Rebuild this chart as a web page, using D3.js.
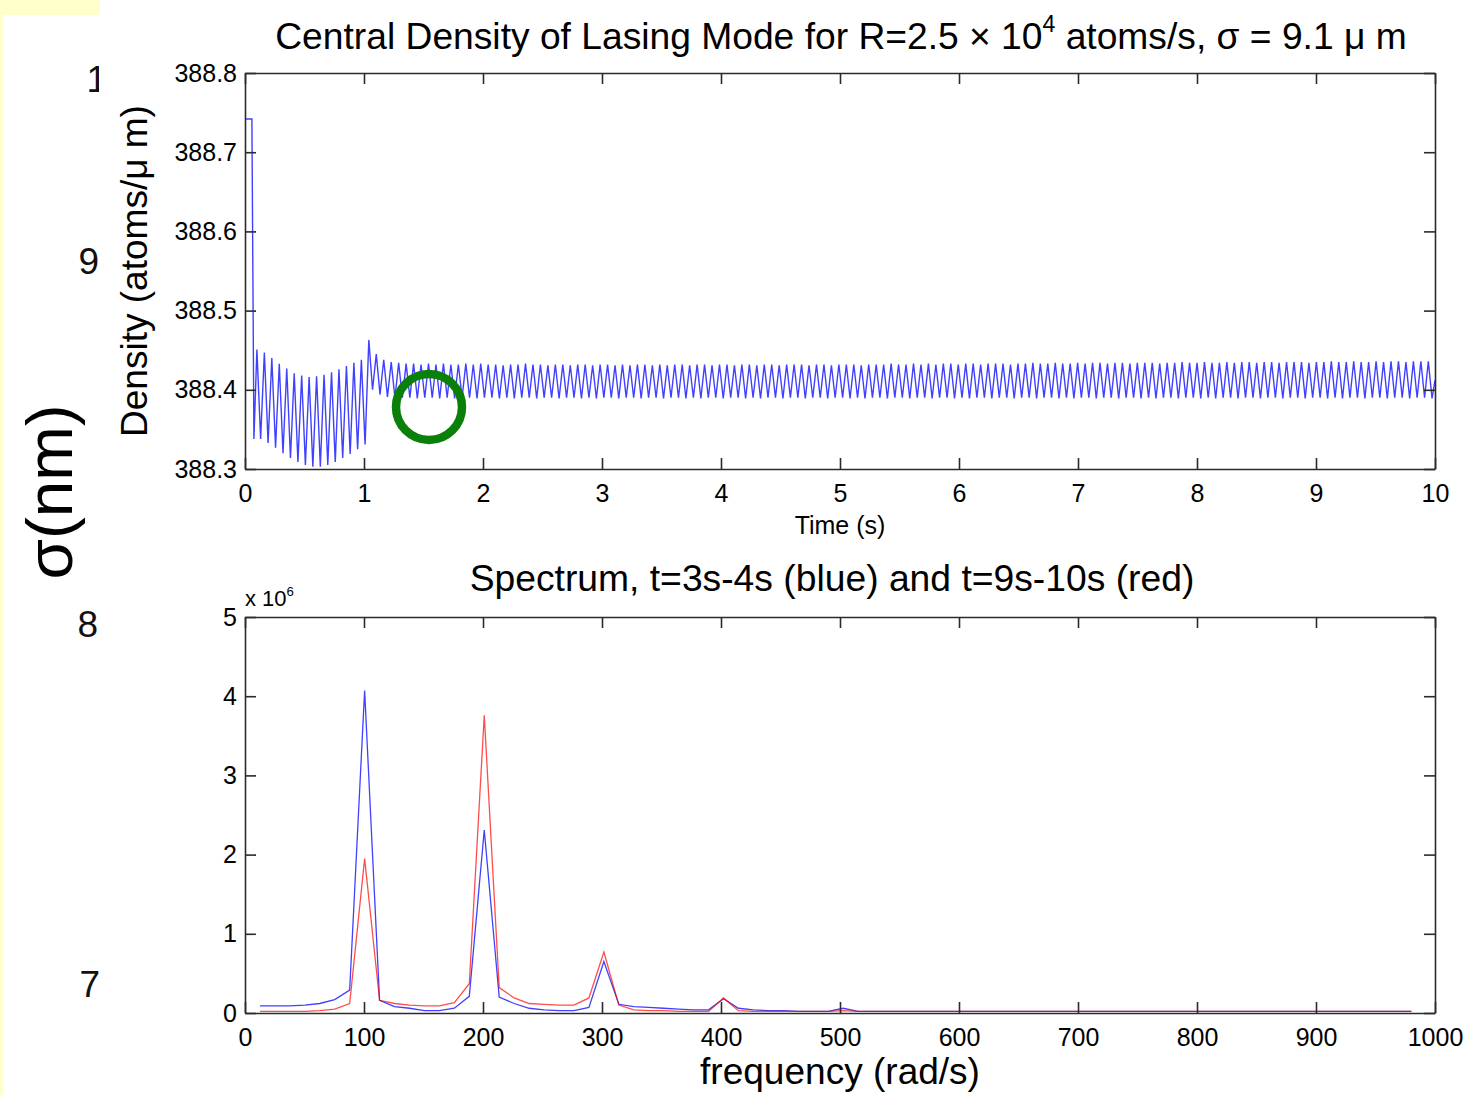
<!DOCTYPE html>
<html>
<head>
<meta charset="utf-8">
<script src="https://cdn.jsdelivr.net/npm/d3@7"></script>
<style>
body { margin: 0; background: #fff; }
svg { display: block; font-family: "Liberation Sans", Arial, Helvetica, sans-serif; }
</style>
</head>
<body>
<script>
const width = 1469
const height = 1095

// top panel: density read at each peak and trough of the oscillation
const densityLead = [[0, 388.742], [0.058, 388.742], [0.075, 388.338]]
const densityTail = [[10, 388.412]]
const cycleStart = 0.10
const cyclePeriod = 0.0627
const densityPeaks = [
    388.451, 388.447, 388.440, 388.433, 388.427, 388.421, 388.418, 388.416, 388.417, 388.419,
    388.422, 388.426, 388.430, 388.434, 388.438, 388.463, 388.445, 388.438, 388.435, 388.434,
    388.433, 388.433, 388.432, 388.433, 388.432, 388.433, 388.432, 388.432, 388.433, 388.432,
    388.433, 388.432, 388.432, 388.431, 388.432, 388.432, 388.433, 388.432, 388.432, 388.431,
    388.432, 388.432, 388.431, 388.432, 388.432, 388.431, 388.432, 388.432, 388.431, 388.432,
    388.431, 388.432, 388.432, 388.431, 388.432, 388.431, 388.432, 388.432, 388.431, 388.432,
    388.432, 388.431, 388.432, 388.432, 388.431, 388.432, 388.432, 388.431, 388.432, 388.432,
    388.431, 388.432, 388.432, 388.432, 388.431, 388.432, 388.432, 388.431, 388.432, 388.432,
    388.432, 388.431, 388.432, 388.432, 388.432, 388.433, 388.432, 388.432, 388.433, 388.432,
    388.433, 388.432, 388.433, 388.433, 388.432, 388.433, 388.433, 388.432, 388.433, 388.433,
    388.433, 388.432, 388.433, 388.433, 388.434, 388.433, 388.433, 388.434, 388.433, 388.433,
    388.434, 388.433, 388.434, 388.434, 388.433, 388.434, 388.434, 388.433, 388.434, 388.434,
    388.434, 388.433, 388.434, 388.434, 388.435, 388.434, 388.434, 388.435, 388.434, 388.434,
    388.435, 388.434, 388.435, 388.435, 388.434, 388.435, 388.435, 388.434, 388.435, 388.435,
    388.435, 388.434, 388.435, 388.435, 388.436, 388.435, 388.435, 388.436, 388.435, 388.435,
    388.436, 388.435, 388.436, 388.436, 388.435, 388.436, 388.436, 388.436
]
const densityTroughs = [
    388.338, 388.333, 388.327, 388.320, 388.314, 388.309, 388.305, 388.303, 388.303, 388.305,
    388.309, 388.314, 388.319, 388.325, 388.331, 388.400, 388.394, 388.391, 388.390, 388.390,
    388.390, 388.389, 388.390, 388.390, 388.389, 388.390, 388.389, 388.390, 388.390, 388.389,
    388.390, 388.390, 388.389, 388.390, 388.389, 388.390, 388.390, 388.389, 388.390, 388.390,
    388.389, 388.390, 388.390, 388.389, 388.390, 388.389, 388.390, 388.390, 388.389, 388.390,
    388.390, 388.389, 388.390, 388.390, 388.389, 388.390, 388.390, 388.389, 388.390, 388.389,
    388.390, 388.390, 388.389, 388.390, 388.390, 388.389, 388.390, 388.389, 388.390, 388.390,
    388.389, 388.390, 388.390, 388.389, 388.390, 388.390, 388.389, 388.390, 388.390, 388.389,
    388.390, 388.389, 388.390, 388.390, 388.389, 388.390, 388.390, 388.389, 388.390, 388.390,
    388.389, 388.390, 388.390, 388.389, 388.390, 388.389, 388.390, 388.390, 388.389, 388.390,
    388.390, 388.389, 388.390, 388.390, 388.389, 388.390, 388.390, 388.389, 388.390, 388.389,
    388.390, 388.390, 388.389, 388.390, 388.390, 388.389, 388.390, 388.390, 388.389, 388.390,
    388.389, 388.390, 388.390, 388.389, 388.390, 388.390, 388.389, 388.390, 388.389, 388.390,
    388.390, 388.389, 388.390, 388.390, 388.389, 388.390, 388.390, 388.389, 388.390, 388.390,
    388.389, 388.390, 388.390, 388.389, 388.390, 388.389, 388.390, 388.390, 388.389, 388.390,
    388.390, 388.389, 388.390, 388.390, 388.389, 388.390, 388.390, 388.389
]
const densityTicks = [388.3, 388.4, 388.5, 388.6, 388.7, 388.8]
const timeTicks = [0, 1, 2, 3, 4, 5, 6, 7, 8, 9, 10]

// bottom panel: spectrum (x 10^6), one bin every 4π rad/s
const binStep = 12.566
const spectrumBlue = [
    0.09, 0.09, 0.09, 0.10, 0.12, 0.17, 0.29, 4.07, 0.16, 0.08,
    0.06, 0.03, 0.03, 0.06, 0.21, 2.31, 0.20, 0.12, 0.06, 0.04,
    0.03, 0.03, 0.07, 0.65, 0.11, 0.08, 0.07, 0.06, 0.05, 0.04,
    0.04, 0.18, 0.06, 0.04, 0.03, 0.03, 0.02, 0.02, 0.02, 0.06,
    0.02, 0.02, 0.02, 0.02, 0.02, 0.02, 0.02, 0.02, 0.02, 0.02,
    0.02, 0.02, 0.02, 0.02, 0.02, 0.02, 0.02, 0.02, 0.02, 0.02,
    0.02, 0.02, 0.02, 0.02, 0.02, 0.02, 0.02, 0.02, 0.02, 0.02,
    0.02, 0.02, 0.02, 0.02, 0.02, 0.02, 0.02, 0.02
]
const spectrumRed = [
    0.02, 0.02, 0.02, 0.02, 0.03, 0.05, 0.12, 1.95, 0.16, 0.12,
    0.10, 0.09, 0.09, 0.13, 0.37, 3.76, 0.32, 0.19, 0.12, 0.11,
    0.10, 0.10, 0.19, 0.77, 0.10, 0.04, 0.03, 0.03, 0.02, 0.02,
    0.02, 0.19, 0.03, 0.02, 0.02, 0.02, 0.02, 0.02, 0.02, 0.03,
    0.02, 0.02, 0.02, 0.02, 0.02, 0.02, 0.02, 0.02, 0.02, 0.02,
    0.02, 0.02, 0.02, 0.02, 0.02, 0.02, 0.02, 0.02, 0.02, 0.02,
    0.02, 0.02, 0.02, 0.02, 0.02, 0.02, 0.02, 0.02, 0.02, 0.02,
    0.02, 0.02, 0.02, 0.02, 0.02, 0.02, 0.02, 0.02
]
const ampTicks = [0, 1, 2, 3, 4, 5]
const freqTicks = [0, 100, 200, 300, 400, 500, 600, 700, 800, 900, 1000]

// leftover slide axis behind the figure
const sideDigits = ['1', '9', '8', '7']
const sideDigitX = [107, 99, 98, 100]
const sideDigitY = [92, 274, 637, 997]

const svg = d3.select('body').append('svg').attr('width', width).attr('height', height)

svg.append('rect').attr('width', width).attr('height', height).attr('fill', '#fff')
svg.append('rect').attr('x', 0).attr('y', 0).attr('width', 100).attr('height', 15).attr('fill', '#ffffcc')
svg.append('rect').attr('x', 0).attr('y', 0).attr('width', 3).attr('height', height).attr('fill', '#ffffcc')

svg.append('clipPath').attr('id', 'sideClip').append('rect').attr('width', 99).attr('height', height)
svg.append('g').attr('clip-path', 'url(#sideClip)')
    .selectAll('text').data(sideDigits).enter().append('text')
    .attr('x', (d, i) => sideDigitX[i]).attr('y', (d, i) => sideDigitY[i])
    .attr('text-anchor', 'end').attr('font-size', 37).attr('fill', '#111')
    .text(d => d)

const fit = (sel, w) => {
    const len = sel.node().getComputedTextLength()
    sel.attr('font-size', +sel.attr('font-size') * w / len)
    return sel
}

const sigma = svg.append('text').attr('transform', 'translate(72,492) rotate(-90)')
    .attr('text-anchor', 'middle').attr('font-size', 67).attr('fill', '#000').text('σ(nm)')
fit(sigma, 175)

const x1 = d3.scaleLinear().domain([0, 10]).range([245, 1435])
const y1 = d3.scaleLinear().domain([388.3, 388.8]).range([469, 73])
const x2 = d3.scaleLinear().domain([0, 1000]).range([245, 1435])
const y2 = d3.scaleLinear().domain([0, 5]).range([1013, 617])

const frame = (x, y, xTicks, yTicks, yFormat) => {
    const [left, right] = x.range()
    const [bottom, top] = y.range()
    const g = svg.append('g')
    g.append('g').attr('transform', `translate(0,${bottom})`)
        .call(d3.axisBottom(x).tickValues(xTicks).tickSize(-11).tickSizeOuter(0).tickPadding(15).tickFormat(d3.format('d')))
    g.append('g').attr('transform', `translate(0,${top})`)
        .call(d3.axisTop(x).tickValues(xTicks).tickSize(-11).tickSizeOuter(0).tickFormat(''))
    g.append('g').attr('transform', `translate(${left},0)`)
        .call(d3.axisLeft(y).tickValues(yTicks).tickSize(-11).tickSizeOuter(0).tickPadding(8).tickFormat(yFormat))
    g.append('g').attr('transform', `translate(${right},0)`)
        .call(d3.axisRight(y).tickValues(yTicks).tickSize(-11).tickSizeOuter(0).tickFormat(''))
    g.selectAll('g').attr('font-family', null).attr('font-size', 25)
    g.selectAll('.domain, .tick line').attr('stroke', '#2b2b2b').attr('stroke-width', 1.6)
    g.selectAll('text').attr('fill', '#000')
    return g
}

// top panel
const densityPoints = densityLead
    .concat(densityPeaks.flatMap((p, k) => {
        const t = cycleStart + k * cyclePeriod
        return [[t, p], [t + cyclePeriod / 2, densityTroughs[k]]]
    }))
    .concat(densityTail)

svg.append('path').datum(densityPoints)
    .attr('d', d3.line().x(d => x1(d[0])).y(d => y1(d[1])))
    .attr('fill', 'none').attr('stroke', '#1010ff').attr('stroke-width', 1.4).attr('stroke-opacity', 0.8)

frame(x1, y1, timeTicks, densityTicks, d3.format('.1f'))

const title = svg.append('text').attr('x', 841).attr('y', 49).attr('text-anchor', 'middle').attr('font-size', 30)
title.append('tspan').text('Central Density of Lasing Mode for R=2.5 × 10')
title.append('tspan').attr('font-size', '0.62em').attr('dy', -17).text('4')
title.append('tspan').attr('dy', 17).text(' atoms/s, σ = 9.1 μ m')
fit(title, 1132)

const yLabel = svg.append('text').attr('transform', 'translate(147,271) rotate(-90)')
    .attr('text-anchor', 'middle').attr('font-size', 36).text('Density (atoms/μ m)')
fit(yLabel, 332)

svg.append('text').attr('x', 840).attr('y', 534).attr('text-anchor', 'middle').attr('font-size', 25).text('Time (s)')

// green marker ring
svg.append('circle').attr('cx', 429).attr('cy', 407).attr('r', 33)
    .attr('fill', 'none').attr('stroke', '#0a7f0a').attr('stroke-width', 8.5)

// bottom panel
const spectrumLine = d3.line().x((d, i) => x2((i + 1) * binStep)).y(d => y2(d))
svg.append('path').datum(spectrumBlue).attr('d', spectrumLine)
    .attr('fill', 'none').attr('stroke', '#0000ff').attr('stroke-width', 1.3).attr('stroke-opacity', 0.75)
svg.append('path').datum(spectrumRed).attr('d', spectrumLine)
    .attr('fill', 'none').attr('stroke', '#ff0000').attr('stroke-width', 1.3).attr('stroke-opacity', 0.7)

frame(x2, y2, freqTicks, ampTicks, d3.format('d'))

const title2 = svg.append('text').attr('x', 832).attr('y', 591).attr('text-anchor', 'middle').attr('font-size', 30)
    .text('Spectrum, t=3s-4s (blue) and t=9s-10s (red)')
fit(title2, 725)

const mult = svg.append('text').attr('x', 245).attr('y', 606).attr('font-size', 22)
mult.append('tspan').text('x 10')
mult.append('tspan').attr('font-size', '0.6em').attr('dy', -10).text('6')

const xLabel2 = svg.append('text').attr('x', 840).attr('y', 1084).attr('text-anchor', 'middle').attr('font-size', 36)
    .text('frequency (rad/s)')
fit(xLabel2, 280)
</script>
</body>
</html>
